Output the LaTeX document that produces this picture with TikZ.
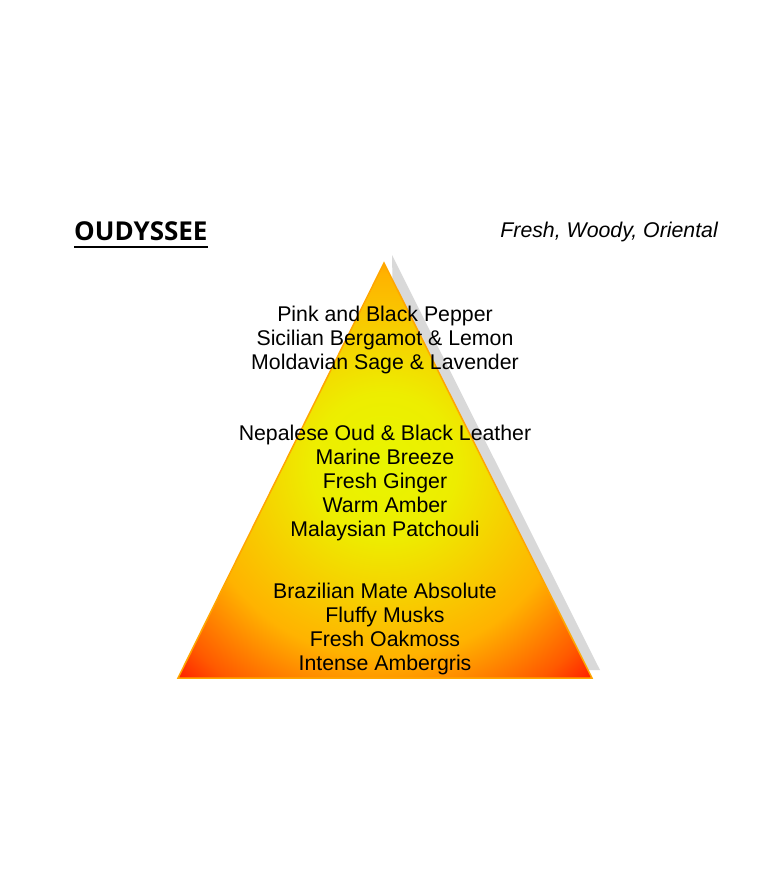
\documentclass[tikz,border=0pt]{standalone}
\usepackage{fontspec}
\setmainfont{Liberation Sans}
\newfontfamily\titlefont{Open Sans}
\pgfdeclareradialshading{pyramidglow}{\pgfpoint{0bp}{0bp}}{%
  rgb(0bp)=(0.91,0.96,0);rgb(6bp)=(0.93,0.93,0);rgb(16bp)=(1,0.7,0);rgb(22bp)=(1,0.35,0);rgb(25bp)=(1,0.1,0);rgb(50bp)=(1,0.1,0)}
\tikzset{
  notes/.style={align=center, font=\fontsize{21.3}{24}\selectfont, inner sep=0pt},
  pyr/.style={draw=orange!70!yellow, line width=1.5pt, line join=miter}
}
\begin{document}
\begin{tikzpicture}[x=1pt, y=-1pt]
  \useasboundingbox (0,0) rectangle (770,888);
  % shadow
  \fill[gray!30] (392,255) -- (600,670) -- (400,670) -- cycle;
  \coordinate (top) at (384,263);
  \coordinate (left) at (178,678);
  \coordinate (right) at (592,678);
  \begin{scope}
    \clip (top) -- (right) -- (left) -- cycle;
    \shade[shading=pyramidglow] (384,465) circle (300);
  \end{scope}
  \draw[pyr] (top) -- (right) -- (left) -- cycle;
  \node[notes] (head) at (385,340) {Pink and Black Pepper\\Sicilian Bergamot \& Lemon\\Moldavian Sage \& Lavender};
  \node[notes] (heart) at (385,483) {Nepalese Oud \& Black Leather\\Marine Breeze\\Fresh Ginger\\Warm Amber\\Malaysian Patchouli};
  \node[notes] (base) at (385,629) {Brazilian Mate Absolute\\Fluffy Musks\\Fresh Oakmoss\\Intense Ambergris};
  \node[anchor=west, inner sep=0pt, font=\titlefont\fontsize{26}{28}\selectfont\bfseries] (name) at (74,231) {OUDYSSEE};
  \draw[line width=1.2pt] ([yshift=-16pt]name.west) -- ([yshift=-16pt]name.east);
  \node[anchor=east, inner sep=0pt, font=\fontsize{21.3}{24}\selectfont\itshape] (kind) at (718,232) {Fresh, Woody, Oriental};
\end{tikzpicture}
\end{document}
